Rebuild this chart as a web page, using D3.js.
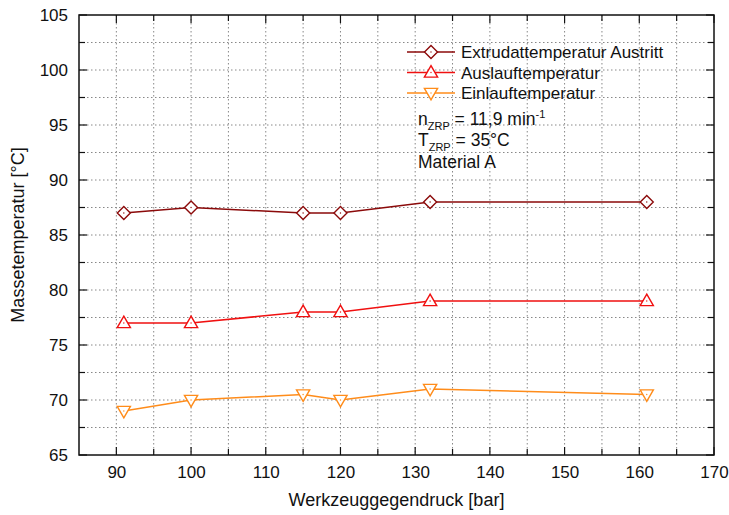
<!DOCTYPE html>
<html>
<head>
<meta charset="utf-8">
<script src="https://cdn.jsdelivr.net/npm/d3@7"></script>
<style>
  body { margin: 0; background: #fff; }
  text { font-family: "Liberation Sans", Arial, sans-serif; fill: #111; }
</style>
</head>
<body>
<div id="chart"></div>
<script>
// frame
const FRAME_WIDTH = 729;
const FRAME_HEIGHT = 515;
const MARGINS = {left: 79, right: 15, top: 15, bottom: 60};

// data
const druck = [91, 100, 115, 120, 132, 161];
const extrudat = [87, 87.5, 87, 87, 88, 88];
const auslauf = [77, 77, 78, 78, 79, 79];
const einlauf = [69, 70, 70.5, 70, 71, 70.5];
const seriesNames = ["Extrudattemperatur Austritt", "Auslauftemperatur", "Einlauftemperatur"];
const xTicks = [90, 100, 110, 120, 130, 140, 150, 160, 170];
const yTicks = [65, 70, 75, 80, 85, 90, 95, 100, 105];

const COLORS = ["#8b0a0a", "#f01010", "#ff8c1a"];
const SHAPES = ["diamond", "up", "down"];

const FRAME = d3.select("#chart")
  .append("svg")
  .attr("width", FRAME_WIDTH)
  .attr("height", FRAME_HEIGHT);

const X_SCALE = d3.scaleLinear().domain([85, 170]).range([MARGINS.left, FRAME_WIDTH - MARGINS.right]);
const Y_SCALE = d3.scaleLinear().domain([65, 105]).range([FRAME_HEIGHT - MARGINS.bottom, MARGINS.top]);

const x0 = X_SCALE(85), x1 = X_SCALE(170);
const y0 = Y_SCALE(65), y1 = Y_SCALE(105);

// dotted grid, every 5 bar and every 2.5 degrees
const gx = d3.range(90, 170, 5);
const gy = d3.range(67.5, 105, 2.5);
FRAME.append("g").selectAll("line").data(gx).enter().append("line")
  .attr("x1", d => X_SCALE(d)).attr("x2", d => X_SCALE(d))
  .attr("y1", y1).attr("y2", y0)
  .style("stroke", "#888").style("stroke-width", 1).style("stroke-dasharray", "1.5,2.5");
FRAME.append("g").selectAll("line").data(gy).enter().append("line")
  .attr("y1", d => Y_SCALE(d)).attr("y2", d => Y_SCALE(d))
  .attr("x1", x0).attr("x2", x1)
  .style("stroke", "#888").style("stroke-width", 1).style("stroke-dasharray", "1.5,2.5");

// axes with inward ticks
const minorX = d3.range(95, 170, 10);
const minorY = d3.range(67.5, 105, 5);
FRAME.append("g")
  .attr("transform", `translate(0,${y0})`)
  .call(d3.axisBottom(X_SCALE).tickValues(xTicks).tickSize(-8).tickPadding(11))
  .call(g => g.select(".domain").remove())
  .call(g => g.selectAll("text").style("font-size", "17px"));
FRAME.append("g")
  .attr("transform", `translate(${x0},0)`)
  .call(d3.axisLeft(Y_SCALE).tickValues(yTicks).tickSize(-8).tickPadding(11))
  .call(g => g.select(".domain").remove())
  .call(g => g.selectAll("text").style("font-size", "17px"));

// ticks on all four sides
const tickG = FRAME.append("g").style("stroke", "#111").style("stroke-width", 1.2);
function vTicks(vals, len) {
  vals.forEach(v => {
    tickG.append("line").attr("x1", X_SCALE(v)).attr("x2", X_SCALE(v)).attr("y1", y0).attr("y2", y0 - len);
    tickG.append("line").attr("x1", X_SCALE(v)).attr("x2", X_SCALE(v)).attr("y1", y1).attr("y2", y1 + len);
  });
}
function hTicks(vals, len) {
  vals.forEach(v => {
    tickG.append("line").attr("y1", Y_SCALE(v)).attr("y2", Y_SCALE(v)).attr("x1", x0).attr("x2", x0 + len);
    tickG.append("line").attr("y1", Y_SCALE(v)).attr("y2", Y_SCALE(v)).attr("x1", x1).attr("x2", x1 - len);
  });
}
vTicks(xTicks, 8); vTicks(minorX, 6);
hTicks(yTicks, 8); hTicks(minorY, 6);
FRAME.selectAll(".tick line").remove();

// frame
FRAME.append("rect")
  .attr("x", x0).attr("y", y1).attr("width", x1 - x0).attr("height", y0 - y1)
  .style("fill", "none").style("stroke", "#111").style("stroke-width", 1.5);

// axis titles
FRAME.append("text")
  .attr("x", (x0 + x1) / 2).attr("y", 506)
  .attr("text-anchor", "middle").style("font-size", "18px")
  .text("Werkzeuggegendruck [bar]");
FRAME.append("text")
  .attr("transform", `translate(24,${(y0 + y1) / 2}) rotate(-90)`)
  .attr("text-anchor", "middle").style("font-size", "18px")
  .text("Massetemperatur [°C]");

// series
const seriesData = [extrudat, auslauf, einlauf];
const line = d3.line().x(d => X_SCALE(d[0])).y(d => Y_SCALE(d[1]));

const MARKER_PATHS = {
  diamond: "M0,-6.5L6.5,0L0,6.5L-6.5,0Z",
  up: "M0,-6.8L6.6,4.6L-6.6,4.6Z",
  down: "M0,6.8L6.6,-4.6L-6.6,-4.6Z"
};

function marker(g, shape, color) {
  g.append("path").attr("d", MARKER_PATHS[shape])
    .style("fill", "#fff").style("stroke", color).style("stroke-width", 1.4);
  g.append("circle").attr("r", 0.7).style("fill", color);
}

seriesData.forEach((vals, i) => {
  const pts = druck.map((x, j) => [x, vals[j]]);
  FRAME.append("path").datum(pts)
    .attr("d", line)
    .style("fill", "none").style("stroke", COLORS[i]).style("stroke-width", 1.5);
  FRAME.append("g").selectAll("g").data(pts).enter().append("g")
    .attr("transform", d => `translate(${X_SCALE(d[0])},${Y_SCALE(d[1])})`)
    .each(function() { marker(d3.select(this), SHAPES[i], COLORS[i]); });
});

// legend
const LEG = FRAME.append("g").attr("transform", "translate(407,52)");
seriesNames.forEach((name, i) => {
  const yy = i * 20.5;
  LEG.append("line").attr("x1", 0).attr("x2", 48).attr("y1", yy).attr("y2", yy)
    .style("stroke", COLORS[i]).style("stroke-width", 1.5);
  const m = LEG.append("g").attr("transform", `translate(24,${yy})`);
  marker(m, SHAPES[i], COLORS[i]);
  LEG.append("text").attr("x", 54).attr("y", yy + 6).style("font-size", "17px").text(name);
});

// annotation
const ANN = FRAME.append("g").attr("transform", "translate(418,0)").style("font-size", "17.5px");
const t1 = ANN.append("text").attr("y", 125);
t1.append("tspan").text("n");
t1.append("tspan").attr("dy", 5).style("font-size", "11px").text("ZRP");
t1.append("tspan").attr("dy", -5).text(" = 11,9 min");
t1.append("tspan").attr("dy", -7).style("font-size", "11px").text("-1");
const t2 = ANN.append("text").attr("y", 146);
t2.append("tspan").text("T");
t2.append("tspan").attr("dy", 5).style("font-size", "11px").text("ZRP");
t2.append("tspan").attr("dy", -5).text(" = 35°C");
ANN.append("text").attr("y", 168).text("Material A");
</script>
</body>
</html>
